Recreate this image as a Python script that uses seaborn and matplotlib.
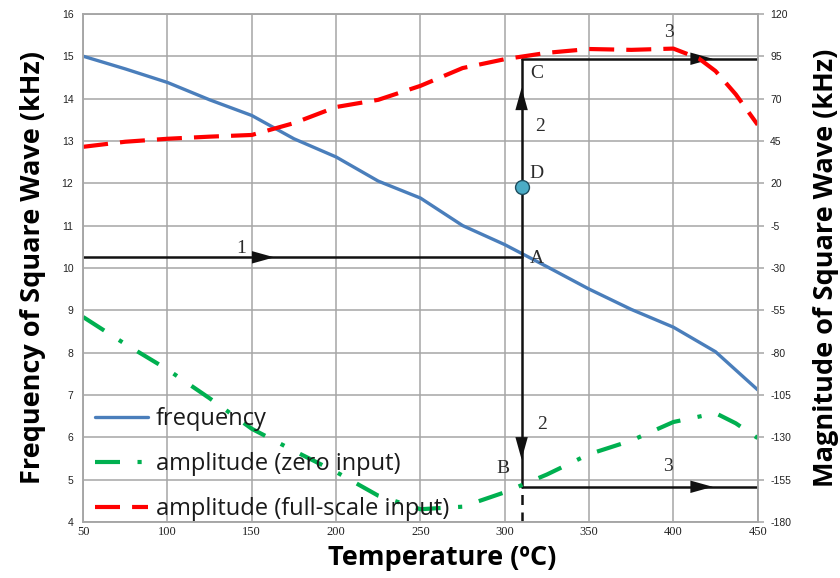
import numpy as np
import pandas as pd
import matplotlib
matplotlib.use("Agg")
import matplotlib.pyplot as plt
import seaborn as sns

# temperature grid (degC) and the three curves
temps = [50, 75, 100, 125, 150, 175, 200, 225, 250, 275, 300, 325, 350, 375, 400, 425, 450]
frequency = [15.0, 14.7, 14.38, 13.97, 13.6, 13.05, 12.62, 12.05, 11.65, 11.0, 10.55, 10.03, 9.5, 9.02, 8.6, 8.02, 7.12]

temps_full = [50, 75, 100, 125, 150, 175, 200, 225, 250, 275, 300, 325, 350, 375, 400, 415, 425, 437, 450]
amp_full = [41.5, 44.5, 46.25, 47.5, 48.5, 55.5, 65, 69.25, 77.5, 88, 93.25, 97, 99.25, 98.75, 99.5, 93.75, 86.25, 72.5, 54.5]

temps_zero = [50, 75, 100, 125, 150, 175, 200, 225, 250, 275, 300, 325, 350, 375, 400, 425, 437, 450]
amp_zero = [-59, -75, -90, -107, -125, -138, -150.5, -164.5, -172.5, -171, -162.5, -152, -140, -132, -121, -115.75, -121.75, -130.5]

# operating point construction (left axis units, kHz)
op_temp = 310
op_A = 10.25
op_B = 4.83
op_C = 14.94
op_D = 11.91
arrow1_tip = 165
arrow2_up_tip = 14.32
arrow2_down_tip = 5.41
arrow3_tip = 425

x_ticks = [50, 100, 150, 200, 250, 300, 350, 400, 450]
left_ticks = list(range(4, 17))
right_ticks = list(range(-180, 121, 25))

sns.set_style("white")
plt.rcParams['axes.unicode_minus'] = False

fig, ax = plt.subplots(figsize=(8.4, 5.78), dpi=100)
fig.subplots_adjust(left=0.099, right=0.902, top=0.976, bottom=0.097)
ax2 = ax.twinx()

grid_c = '#a6a6a6'
ax.set_xlim(50, 450)
ax.set_ylim(4, 16)
ax2.set_ylim(-180, 120)
ax.set_xticks(x_ticks)
ax.set_yticks(left_ticks)
ax2.set_yticks(right_ticks)
ax2.set_yticklabels([str(v) for v in right_ticks])
ax.grid(True, color=grid_c, linewidth=1.1)
ax2.grid(False)
for a in (ax, ax2):
    for s in a.spines.values():
        s.set_color(grid_c)
        s.set_linewidth(1.1)

ax.tick_params(axis='x', length=0, pad=3, labelsize=9, labelcolor='#222222')
ax.tick_params(axis='y', length=0, pad=7, labelsize=7.5, labelcolor='#222222')
ax2.tick_params(axis='y', length=4, width=1.1, color=grid_c, pad=5, labelsize=7.5, labelcolor='#222222')
for lab in ax.get_xticklabels():
    lab.set_fontfamily('Liberation Serif')
for lab in ax.get_yticklabels() + ax2.get_yticklabels():
    lab.set_fontfamily('Liberation Sans')

sns.lineplot(x=temps, y=frequency, ax=ax, color='#4a7ebb', linewidth=2.4, label='frequency')
sns.lineplot(x=temps_zero, y=amp_zero, ax=ax2, color='#00b050', linewidth=3,
             linestyle=(0, (6, 4.2, 1, 4.2)), label='amplitude (zero input)')
sns.lineplot(x=temps_full, y=amp_full, ax=ax2, color='#ff0000', linewidth=3,
             linestyle=(0, (6, 2.9)), label='amplitude (full-scale input)')

# construction lines
blk = '#111111'
ax.plot([50, op_temp], [op_A, op_A], color=blk, lw=1.8)
ax.plot([op_temp, op_temp], [op_B, op_C], color=blk, lw=1.8)
ax.plot([op_temp, op_temp], [4, op_B], color=blk, lw=1.8, linestyle=(0, (4, 3)))
ax.plot([op_temp, 450], [op_C, op_C], color=blk, lw=1.8)
ax.plot([op_temp, 450], [op_B, op_B], color=blk, lw=1.8)
arr = dict(arrowstyle='-|>,head_length=1.15,head_width=0.32', color=blk, lw=0, mutation_scale=14)
ax.annotate('', xy=(arrow1_tip, op_A), xytext=(arrow1_tip - 10, op_A), arrowprops=arr)
ax.annotate('', xy=(op_temp, arrow2_up_tip), xytext=(op_temp, arrow2_up_tip - 0.4), arrowprops=arr)
ax.annotate('', xy=(op_temp, arrow2_down_tip), xytext=(op_temp, arrow2_down_tip + 0.4), arrowprops=arr)
ax.annotate('', xy=(arrow3_tip, op_C), xytext=(arrow3_tip - 10, op_C), arrowprops=arr)
ax.annotate('', xy=(arrow3_tip, op_B), xytext=(arrow3_tip - 10, op_B), arrowprops=arr)
ax.plot([op_temp], [op_D], marker='o', markersize=10, color='#4bacc6', markeredgecolor='#1f4e5f',
        markeredgewidth=1, zorder=5)

txt = dict(fontfamily='Liberation Serif', fontsize=14, color='#2b2b2b', ha='center', va='center')
ax.text(143.5, 10.47, '1', **txt)
ax.text(321, 13.35, '2', **txt)
ax.text(322, 6.31, '2', **txt)
ax.text(397.5, 15.55, '3', **txt)
ax.text(396.5, 5.31, '3', **txt)
ax.text(319, 10.23, 'A', **txt)
ax.text(299, 5.27, 'B', **txt)
ax.text(319, 14.6, 'C', **txt)
ax.text(319, 12.24, 'D', **txt)

# legend with all three curves
h1, l1 = ax.get_legend_handles_labels()
h2, l2 = ax2.get_legend_handles_labels()
if ax.get_legend() is not None:
    ax.get_legend().remove()
leg = ax2.legend(h1[:1] + h2, l1[:1] + l2, loc='lower left', bbox_to_anchor=(0.011, -0.008),
                 frameon=False, handlelength=2.25, handletextpad=0.3, labelspacing=0.9,
                 borderaxespad=0, borderpad=0.2, prop={'family': 'Open Sans', 'size': 17})
for t in leg.get_texts():
    t.set_color('#1a1a1a')

lab = dict(fontfamily='Open Sans', fontweight='bold', fontsize=19.5, color='black')
ax.set_xlabel('Temperature (ºC)', labelpad=5, **lab)
ax.xaxis.label.set_x(0.533)
ax.set_ylabel('Frequency of Square Wave (kHz)', labelpad=11, **lab)
ax2.set_ylabel('Magnitude of Square Wave (kHz)', labelpad=16, **lab)

fig.savefig('out.png', dpi=100)
